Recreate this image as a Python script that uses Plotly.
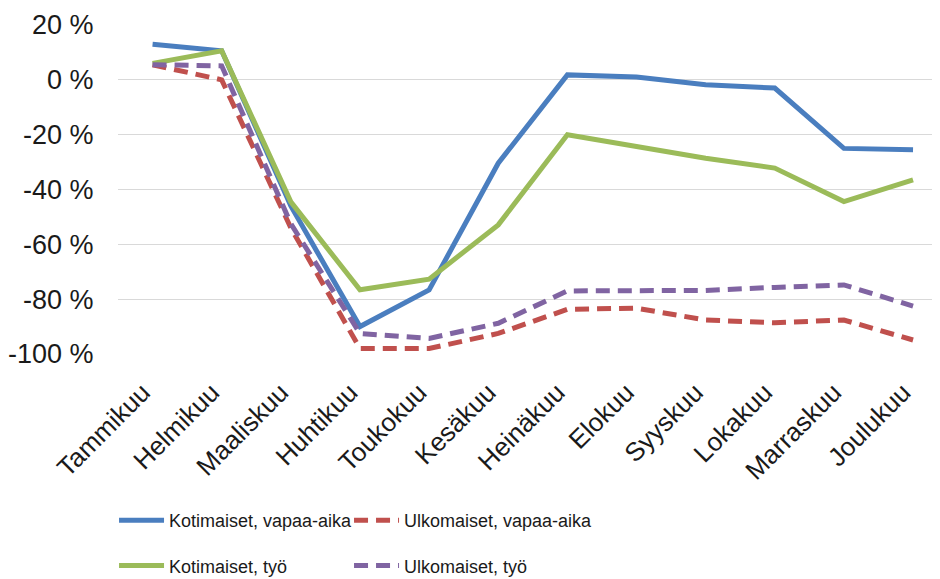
''' Monthly change in overnight stays '''
import plotly.graph_objects as go

months = ['Tammikuu', 'Helmikuu', 'Maaliskuu', 'Huhtikuu', 'Toukokuu', 'Kesäkuu',
          'Heinäkuu', 'Elokuu', 'Syyskuu', 'Lokakuu', 'Marraskuu', 'Joulukuu']

kotimaiset_vapaa = [13.0, 10.6, -46.0, -90.0, -76.6, -30.4, 1.8, 1.0, -1.8, -3.0, -25.0, -25.5]
ulkomaiset_vapaa = [5.5, 0.0, -54.0, -98.0, -98.0, -92.5, -83.7, -83.3, -87.6, -88.6, -87.6, -94.9]
kotimaiset_tyo = [6.0, 10.6, -44.5, -76.6, -72.7, -52.9, -20.0, -24.3, -28.6, -32.2, -44.4, -36.5]
ulkomaiset_tyo = [5.5, 5.1, -52.5, -92.5, -94.3, -88.8, -77.0, -77.0, -76.8, -75.7, -74.8, -82.5]

y_ticks = [20, 0, -20, -40, -60, -80, -100]
y_labels = ['20 %', '0 %', '-20 %', '-40 %', '-60 %', '-80 %', '-100 %']

blue = '#4a7ebf'
red = '#c0504d'
green = '#9bbb59'
purple = '#8064a2'

fig = go.Figure()

series = [
    ('Kotimaiset, vapaa-aika', kotimaiset_vapaa, blue, 'solid', 'legend', 'g1'),
    ('Ulkomaiset, vapaa-aika', ulkomaiset_vapaa, red, '14px,8px', 'legend2', 'g2'),
    ('Kotimaiset, työ', kotimaiset_tyo, green, 'solid', 'legend', 'g3'),
    ('Ulkomaiset, työ', ulkomaiset_tyo, purple, '14px,8px', 'legend2', 'g4'),
]

for name, values, col, dash, leg, grp in series:
    fig.add_trace(
        go.Scatter(
            x = months,
            y = values,
            name = name,
            mode = 'lines',
            line = dict(color=col, width=5, dash=dash),
            legend = leg,
            legendgroup = grp
        )
    )

legend_font = dict(family='Liberation Sans, Arial', size=18, color='#1a1a1a')

# page body adds an 8px offset, so margins are shifted by that amount
fig.update_layout(
    width = 940,
    height = 579,
    margin = dict(l=110, r=8, t=17, b=233, autoexpand=False),
    plot_bgcolor = 'white',
    paper_bgcolor = 'white',
    font = dict(family='Liberation Sans, Arial', size=26, color='#1a1a1a'),
    xaxis = dict(
        range = [-0.5, 11.39],
        tickangle = -45,
        showgrid = False,
        showline = False,
        ticks = 'outside',
        ticklen = 12,
        tickcolor = 'white',
        ticklabelshift = -10,
        tickfont = dict(size=26),
        automargin = False
    ),
    yaxis = dict(
        range = [-100, 20],
        tickvals = y_ticks,
        ticktext = y_labels,
        showgrid = True,
        gridcolor = '#d9d9d9',
        gridwidth = 1,
        zeroline = False,
        showline = False,
        ticks = 'outside',
        ticklen = 18,
        tickcolor = 'white',
        tickfont = dict(size=27),
        automargin = False
    ),
    legend = dict(
        xref = 'container', yref = 'container',
        x = 0.1128, y = 0.1468,
        xanchor = 'left', yanchor = 'top',
        font = legend_font,
        itemwidth = 45,
        tracegroupgap = 19,
        bgcolor = 'rgba(0,0,0,0)'
    ),
    legend2 = dict(
        xref = 'container', yref = 'container',
        x = 0.3628, y = 0.1468,
        xanchor = 'left', yanchor = 'top',
        font = legend_font,
        itemwidth = 45,
        tracegroupgap = 19,
        bgcolor = 'rgba(0,0,0,0)'
    ),
    showlegend = True
)

fig.write_html('out.html')
